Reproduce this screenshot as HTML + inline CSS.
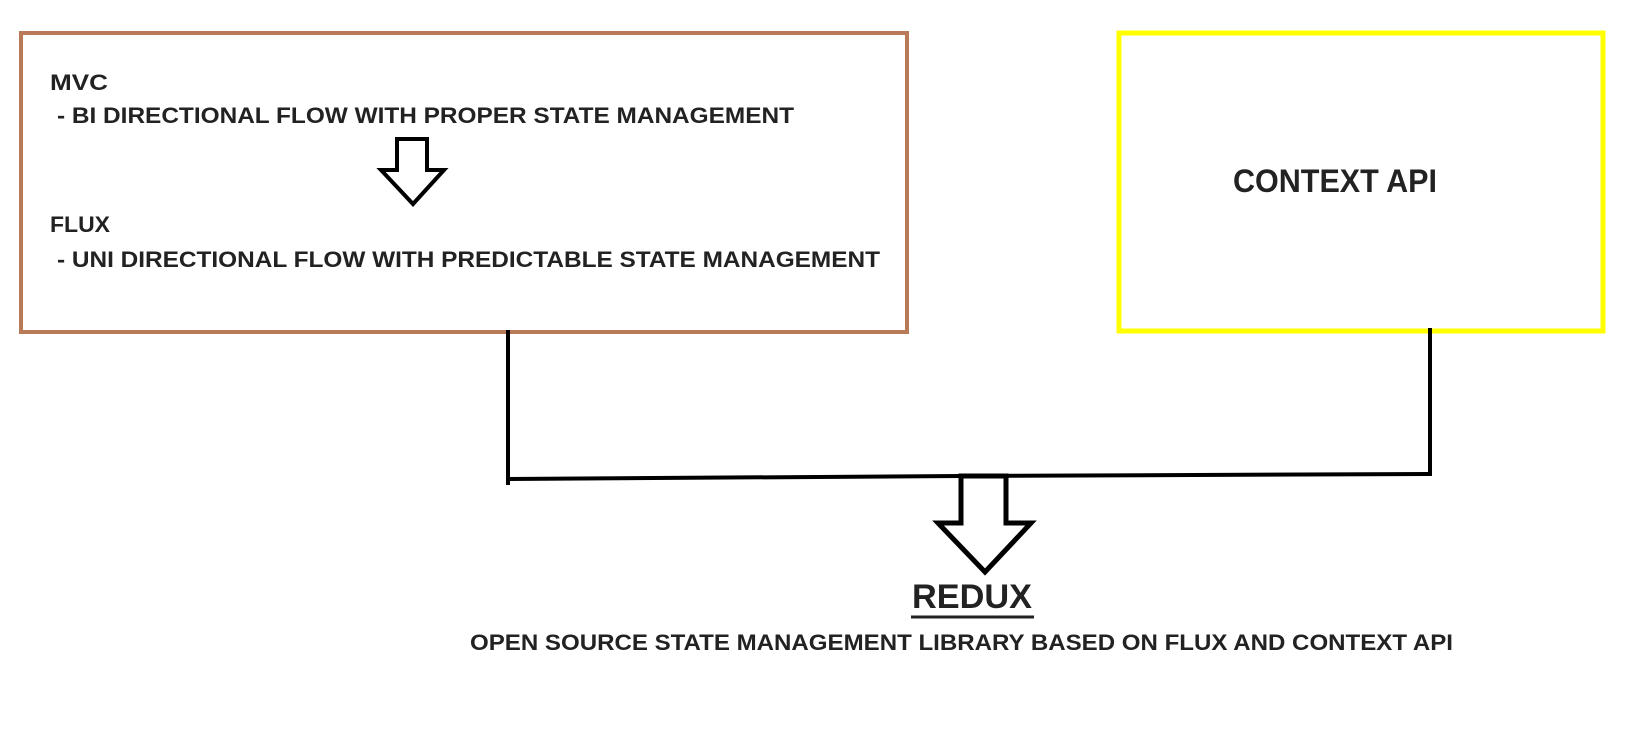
<!DOCTYPE html>
<html><head><style>html,body{margin:0;padding:0;background:#fff;}svg{display:block;}</style></head>
<body>
<svg width="1639" height="751" xmlns="http://www.w3.org/2000/svg" font-family="Liberation Sans, sans-serif" font-weight="bold" fill="#222">
<rect x="21" y="33" width="886" height="299" fill="none" stroke="#b97a57" stroke-width="4"/>
<rect x="1119" y="33" width="484" height="298" fill="none" stroke="#ffff00" stroke-width="5"/>
<text x="50" y="90" font-size="22" textLength="58" lengthAdjust="spacingAndGlyphs">MVC</text>
<text x="57" y="123" font-size="22" textLength="737" lengthAdjust="spacingAndGlyphs">- BI DIRECTIONAL FLOW WITH PROPER STATE MANAGEMENT</text>
<text x="50" y="232" font-size="22" textLength="60" lengthAdjust="spacingAndGlyphs">FLUX</text>
<text x="57" y="267" font-size="22" textLength="823" lengthAdjust="spacingAndGlyphs">- UNI DIRECTIONAL FLOW WITH PREDICTABLE STATE MANAGEMENT</text>
<text x="1233" y="192" font-size="32" textLength="204" lengthAdjust="spacingAndGlyphs">CONTEXT API</text>
<polygon points="397,139 427,139 427,170 444,170 413,204 381,170 397,170" fill="#fff" stroke="#000" stroke-width="4" stroke-linejoin="miter"/>
<g stroke="#000" stroke-width="4" fill="none">
<line x1="508" y1="330" x2="508" y2="485"/>
<line x1="1430" y1="328" x2="1430" y2="476"/>
<polyline points="508,479 960,476 1430,474"/>
</g>
<polygon points="961,476 1006,476 1006,523 1031,523 985,572 938,523 961,523" fill="#fff" stroke="#000" stroke-width="5"/>
<text x="912" y="608" font-size="34" textLength="120" lengthAdjust="spacingAndGlyphs">REDUX</text>
<line x1="911" y1="617" x2="1034" y2="617" stroke="#222" stroke-width="3"/>
<text x="470" y="650" font-size="22" textLength="983" lengthAdjust="spacingAndGlyphs">OPEN SOURCE STATE MANAGEMENT LIBRARY BASED ON FLUX AND CONTEXT API</text>
</svg>
</body></html>
